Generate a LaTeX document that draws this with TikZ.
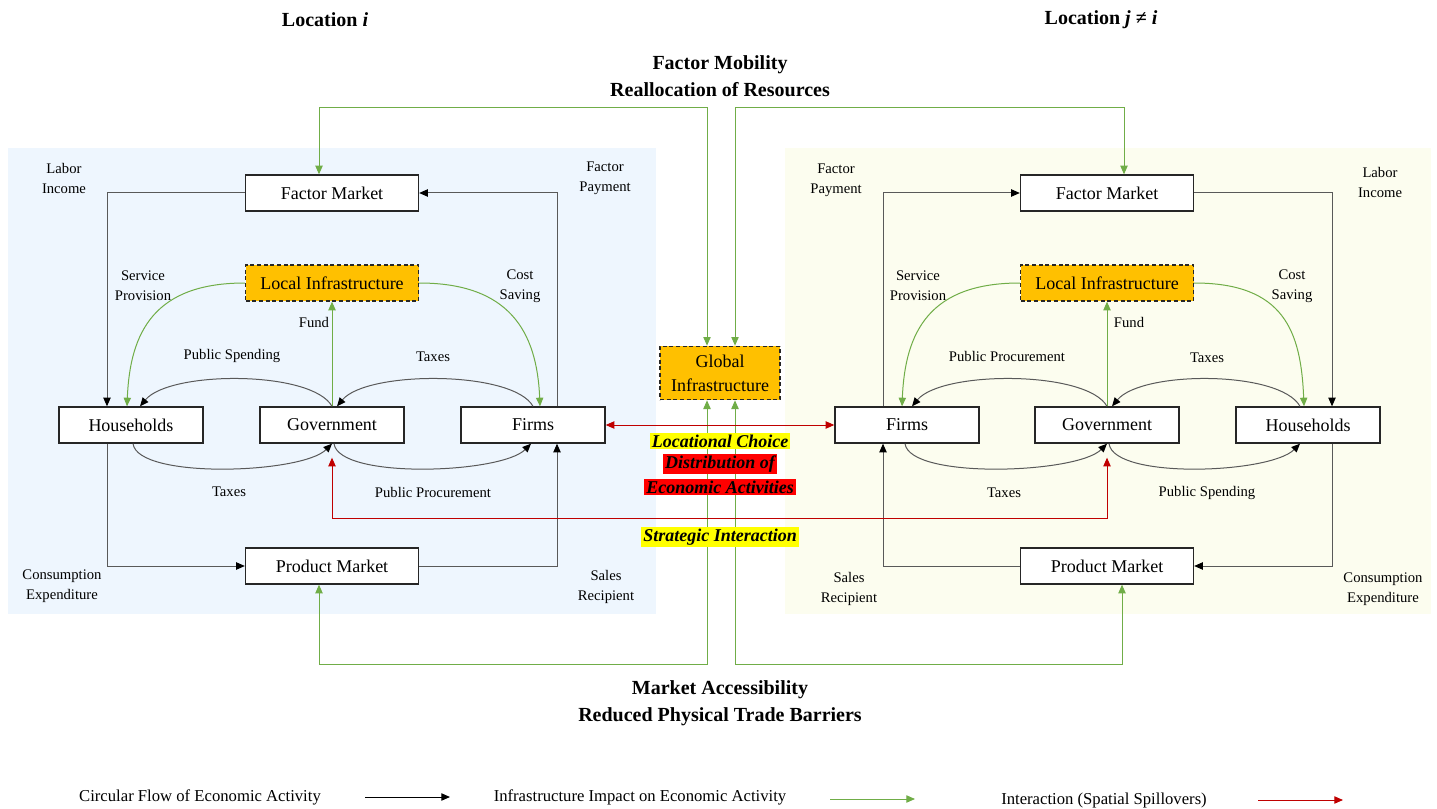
\documentclass[tikz,border=0pt]{standalone}
\usepackage{fontspec}
\setmainfont{Liberation Serif}
\usetikzlibrary{arrows.meta,calc}
\definecolor{gr}{HTML}{70AD47}
\definecolor{rd}{HTML}{C00000}
\definecolor{org}{HTML}{FFC000}
\definecolor{bgL}{HTML}{EEF6FE}
\definecolor{bgR}{HTML}{FCFDEF}
\definecolor{hly}{HTML}{FFFF00}
\definecolor{hlr}{HTML}{FF0000}
\begin{document}
\begin{tikzpicture}[x=0.75pt,y=-0.75pt,
  box/.style={draw=black!85, line width=1pt, fill=white, inner sep=0pt, minimum height=27pt, font=\fontsize{13.5}{15}\selectfont},
  bigbox/.style={box, minimum width=129.75pt},
  smallbox/.style={box, minimum width=108pt},
  infra/.style={bigbox, fill=org, dash pattern=on 3pt off 2pt},
  lbl/.style={font=\fontsize{11}{15}\selectfont, align=center, inner sep=0pt},
  ttl/.style={font=\fontsize{15}{20}\selectfont\bfseries, align=center, inner sep=0pt},
  leg/.style={font=\fontsize{12.5}{15}\selectfont, inner sep=0pt},
  hl/.style={font=\fontsize{13.5}{16}\selectfont\bfseries\itshape, inner sep=1.5pt},
  flow/.style={draw=black!65, line width=0.75pt, -{Triangle[length=6.5pt,width=5.5pt,color=black]}},
  gflow/.style={draw=gr, line width=0.75pt, -{Triangle[length=6.5pt,width=5.5pt]}},
  gboth/.style={draw=gr, line width=0.75pt, {Triangle[length=6.5pt,width=5.5pt]}-{Triangle[length=6.5pt,width=5.5pt]}},
  rboth/.style={draw=rd, line width=0.75pt, {Triangle[length=6.5pt,width=5.5pt]}-{Triangle[length=6.5pt,width=5.5pt]}},
  rflow/.style={draw=rd, line width=0.75pt, -{Triangle[length=6.5pt,width=5.5pt]}},
]
\useasboundingbox (0,0) rectangle (1437,809);
\fill[white] (0,0) rectangle (1437,809);
% panels
\fill[bgL] (8,148) rectangle (656,614);
\fill[bgR] (785,148) rectangle (1431,614);

% titles
\node[ttl] (tLi) at (325,20) {Location \textit{i}};
\node[ttl] (tLj) at (1101,20) {Location \textit{j} ≠ \textit{i}};
\node[ttl] (tFM) at (720,76) {Factor Mobility\\Reallocation of Resources};
\node[ttl] (tMA) at (720,703) {Market Accessibility\\Reduced Physical Trade Barriers};

% left nodes
\node[bigbox] (fmL) at (332,193) {Factor Market};
\node[infra] (infL) at (332,283) {Local Infrastructure};
\node[smallbox] (hhL) at (131,425) {Households};
\node[smallbox] (goL) at (332,425) {Government};
\node[smallbox] (fiL) at (533,425) {Firms};
\node[bigbox] (pmL) at (332,566) {Product Market};

% right nodes
\node[bigbox] (fmR) at (1107,193) {Factor Market};
\node[infra] (infR) at (1107,283) {Local Infrastructure};
\node[smallbox] (fiR) at (907,425) {Firms};
\node[smallbox] (goR) at (1107,425) {Government};
\node[smallbox] (hhR) at (1308,425) {Households};
\node[bigbox] (pmR) at (1107,566) {Product Market};

% global
\node[box, fill=org, dash pattern=on 3pt off 2pt, minimum width=90pt, minimum height=40pt, align=center, font=\fontsize{13.5}{18}\selectfont] (gi) at (720,373) {Global\\Infrastructure};

% left circular flow
\draw[flow] (fmL.west) -| ($(hhL.north)+(-24,0)$);
\draw[flow] ($(fiL.north)+(24,0)$) |- (fmL.east);
\draw[flow] ($(hhL.south)+(-24,0)$) |- (pmL.west);
\draw[flow] (pmL.east) -| ($(fiL.south)+(24,0)$);
\draw[flow] (goL.north) .. controls +(-20,-36) and +(30,-36) .. ($(hhL.north)+(9,0)$);
\draw[flow] (fiL.north) .. controls +(-20,-36) and +(30,-36) .. ($(goL.north)+(5,0)$);
\draw[flow] ($(hhL.south)+(2,0)$) .. controls +(5,36) and +(-30,30) .. (goL.south);
\draw[flow] ($(goL.south)+(2,0)$) .. controls +(5,36) and +(-30,30) .. ($(fiL.south)+(-2,0)$);

% right circular flow
\draw[flow] ($(fiR.north)+(-24,0)$) |- (fmR.west);
\draw[flow] (fmR.east) -| ($(hhR.north)+(24,0)$);
\draw[flow] ($(hhR.south)+(24,0)$) |- (pmR.east);
\draw[flow] (pmR.west) -| ($(fiR.south)+(-24,0)$);
\draw[flow] (goR.north) .. controls +(-20,-36) and +(30,-36) .. ($(fiR.north)+(5,0)$);
\draw[flow] ($(hhR.north)+(-8,0)$) .. controls +(-20,-36) and +(30,-36) .. ($(goR.north)+(5,0)$);
\draw[flow] ($(fiR.south)+(-2,0)$) .. controls +(5,36) and +(-30,30) .. (goR.south);
\draw[flow] ($(goR.south)+(2,0)$) .. controls +(5,36) and +(-30,30) .. ($(hhR.south)+(-8,0)$);

% green infrastructure impacts
\draw[gflow] (infL.west) .. controls +(-90,0) and +(3,-75) .. ($(hhL.north)+(-4,0)$);
\draw[gflow] (infL.east) .. controls +(90,0) and +(-3,-75) .. ($(fiL.north)+(7,0)$);
\draw[gflow] (goL.north) -- (infL.south);
\draw[gflow] (infR.west) .. controls +(-90,0) and +(3,-75) .. ($(fiR.north)+(-5,0)$);
\draw[gflow] (infR.east) .. controls +(90,0) and +(-3,-75) .. ($(hhR.north)+(-4,0)$);
\draw[gflow] (goR.north) -- (infR.south);

\draw[gboth] ($(gi.north)+(-13,0)$) -- ($(gi.north)+(-13,-238)$) -| ($(fmL.north)+(-13,0)$);
\draw[gboth] ($(gi.north)+(15,0)$) -- ($(gi.north)+(15,-238)$) -| ($(fmR.north)+(17,0)$);
\draw[gboth] ($(gi.south)+(-13,0)$) -- ($(gi.south)+(-13,264)$) -| ($(pmL.south)+(-13,0)$);
\draw[gboth] ($(gi.south)+(15,0)$) -- ($(gi.south)+(15,264)$) -| ($(pmR.south)+(15,0)$);

% red interactions
\draw[rboth] (fiL.east) -- (fiR.west);
\draw[rboth] ($(goL.south)+(0,14)$) -- ($(goL.south)+(0,75)$) -- ($(goR.south)+(0,75)$) -- ($(goR.south)+(0,14)$);

% middle highlighted labels
\node[hl, fill=hly] (hLC) at (720,441) {Locational Choice};
\node[hl, fill=hlr] (hD1) at (720,464) {Distribution of};
\node[hl, fill=hlr] (hD2) at (720,487) {Economic Activities};
\node[hl, fill=hly] (hSI) at (720,537) {Strategic Interaction};

% left labels
\node[lbl] (l1) at (64,178) {Labor\\Income};
\node[lbl] (l2) at (605,178) {Factor\\Payment};
\node[lbl] (l3) at (143,286) {Service\\Provision};
\node[lbl] (l4) at (520,286) {Cost\\Saving};
\node[lbl] (l5) at (314,322) {Fund};
\node[lbl] (l6) at (232,356) {Public Spending};
\node[lbl] (l7) at (433,357) {Taxes};
\node[lbl] (l8) at (229,492) {Taxes};
\node[lbl] (l9) at (433,492) {Public Procurement};
\node[lbl] (l10) at (62,586) {Consumption\\Expenditure};
\node[lbl] (l11) at (606,587) {Sales\\Recipient};

% right labels
\node[lbl] (r1) at (836,180) {Factor\\Payment};
\node[lbl] (r2) at (1380,182) {Labor\\Income};
\node[lbl] (r3) at (918,286) {Service\\Provision};
\node[lbl] (r4) at (1292,286) {Cost\\Saving};
\node[lbl] (r5) at (1129,322) {Fund};
\node[lbl] (r6) at (1007,356) {Public Procurement};
\node[lbl] (r7) at (1207,358) {Taxes};
\node[lbl] (r8) at (1004,493) {Taxes};
\node[lbl] (r9) at (1207,493) {Public Spending};
\node[lbl] (r10) at (849,589) {Sales\\Recipient};
\node[lbl] (r11) at (1383,589) {Consumption\\Expenditure};

% legend
\node[leg] (g1) at (200,797) {Circular Flow of Economic Activity};
\node[leg] (g2) at (640,797) {Infrastructure Impact on Economic Activity};
\node[leg] (g3) at (1104,800) {Interaction (Spatial Spillovers)};
\coordinate (a1) at (365,797); \coordinate (b1) at (450,797);
\coordinate (a2) at (830,799); \coordinate (b2) at (915,799);
\coordinate (a3) at (1258,800); \coordinate (b3) at (1343,800);
\draw[flow, draw=black] (a1) -- (b1);
\draw[gflow] (a2) -- (b2);
\draw[rflow] (a3) -- (b3);
\end{tikzpicture}
\end{document}
